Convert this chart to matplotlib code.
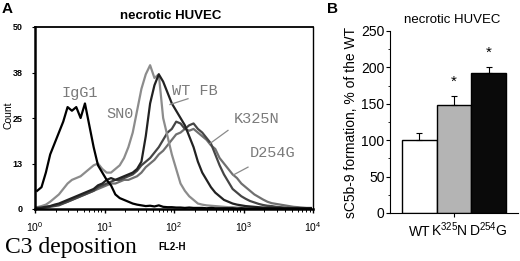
import matplotlib.pyplot as plt
import numpy as np

plt.rcParams['mathtext.fontset'] = 'custom'
plt.rcParams['mathtext.rm'] = 'Liberation Sans'
plt.rcParams['mathtext.it'] = 'Liberation Sans:italic'
plt.rcParams['mathtext.bf'] = 'Liberation Sans:bold'

# flow cytometry histograms, 16 channels per decade (10^0 .. 10^4)
igg1 = [5, 6, 10, 15, 18, 21, 24, 28, 27, 28, 25, 29, 23, 17, 12, 10, 8, 6.5, 4, 3,
        2.5, 2, 1.5, 1.2, 1.0, 0.8, 0.9, 0.7, 1.0, 0.6, 0.5, 0.5, 0.4, 0.4, 0.3, 0.4,
        0.3, 0.3, 0.3, 0.2, 0.3, 0.2, 0.2, 0.2, 0.2, 0.2, 0.1, 0.2, 0.1, 0.1, 0.1, 0.1,
        0.1, 0.1, 0.1, 0.1, 0.1, 0.1, 0.1, 0.1, 0.1, 0.1, 0.1, 0.1]
sn0 = [0.5, 0.8, 1.2, 2, 3, 4, 5.5, 7, 8, 8.5, 9, 10, 11, 12, 12.5, 11, 10, 10, 11, 12,
       14, 17, 21, 27, 33, 37, 39.5, 36, 37, 25, 20, 15, 11, 7, 5, 3.5, 2.5, 1.5, 1.2,
       1, 0.9, 0.8, 0.7, 0.6, 0.5, 0.5, 0.4, 0.4, 0.3, 0.3, 0.3, 0.2, 0.2, 0.2, 0.2,
       0.2, 0.2, 0.1, 0.1, 0.1, 0.1, 0.1, 0.1, 0.1]
wt_fb = [0.3, 0.4, 0.6, 0.8, 1.2, 1.5, 2, 2.5, 3, 3.5, 4, 4.5, 5, 5.5, 6.5, 7, 8, 8.5,
         8, 8.5, 9, 9.5, 10, 11, 13, 20, 29, 34, 37, 35, 32, 29, 27, 25, 23, 20, 17, 13,
         10, 8, 6, 4.5, 3.5, 2.5, 2, 1.5, 1.2, 1, 0.8, 0.7, 0.6, 0.5, 0.4, 0.4, 0.3, 0.3,
         0.3, 0.2, 0.2, 0.2, 0.2, 0.2, 0.2, 0.2]
k325n = [0.2, 0.3, 0.4, 0.6, 0.8, 1, 1.5, 2, 2.5, 3, 3.5, 4, 4.5, 5, 6, 6.5, 7, 7.5, 8,
         8, 8.5, 9, 9.5, 10.5, 12, 13, 14, 15.5, 17, 19, 21, 22, 24, 23.5, 22, 23, 23.5,
         22, 21, 19.5, 18, 15, 12, 9.5, 7.5, 5.5, 4.5, 3.5, 2.8, 2.2, 1.8, 1.4, 1.1, 0.9,
         0.8, 0.6, 0.5, 0.4, 0.3, 0.3, 0.3, 0.2, 0.2, 0.2]
d254g = [0.3, 0.4, 0.6, 0.8, 1, 1.3, 1.6, 2, 2.5, 3, 3.5, 4, 4.5, 5, 5.5, 6, 6.5, 7, 7,
         7.5, 8, 8, 8.5, 9, 10, 11.5, 12.5, 13.5, 15, 16, 17.5, 19, 20.5, 21, 22, 21.5,
         22, 21, 20, 19, 17.5, 16.5, 14, 12.5, 11, 9.5, 8.5, 7, 6, 5, 4, 3.3, 2.6, 2, 1.6,
         1.4, 1.2, 1, 0.8, 0.6, 0.5, 0.4, 0.3, 0.3]

# panel B
groups = ['WT', 'K$^{325}$N', 'D$^{254}$G']
sc5b9 = [100, 148, 192]
sc5b9_err = [10, 13, 8]
significant = [False, True, True]

channels = 10 ** ((np.arange(64) + 0.5) / 16)

fig = plt.figure(figsize=(5.2, 2.61), dpi=100)

# ---------- A ----------
ax = fig.add_axes([35/520, 1-209/261, 278/520, 182/261])
hist = [(d254g, '#707070'), (k325n, '#454545'), (sn0, '#8c8c8c'),
        (wt_fb, '#222222'), (igg1, '#000000')]
for vals, col in hist:
    ax.plot(channels, vals, color=col, lw=1.6)

ax.set_xscale('log')
ax.set_xlim(1, 1e4)
ax.set_ylim(0, 50)
ax.set_xticks([1, 10, 100, 1000, 10000])
ax.set_xticklabels(['$10^{0}$', '$10^{1}$', '$10^{2}$', '$10^{3}$', '$10^{4}$'],
                   fontsize=7.5)
ax.set_yticks([0, 12.5, 25, 37.5, 50])
ax.set_yticklabels(['0', '13', '25', '38', '50'], fontsize=6.5,
                   family='Liberation Sans', weight='bold')
ax.tick_params(axis='x', which='major', length=3, width=1, pad=5)
ax.tick_params(axis='x', which='minor', length=2, width=0.7)
ax.tick_params(axis='y', length=2, width=0.8, pad=7)
ax.spines['left'].set_linewidth(1.8)
ax.spines['bottom'].set_linewidth(1.8)
ax.spines['top'].set_linewidth(1.3)
ax.spines['right'].set_linewidth(1.0)

lab = dict(family='Liberation Mono', fontsize=11, color='#7a7a7a',
           ha='center', va='center')
ax.text(4.44, 32, 'IgG1', **lab)
ax.text(16.7, 26.2, 'SN0', **lab)
ax.text(200, 32.5, 'WT FB', **lab)
ax.text(1560, 24.6, 'K325N', **lab)
ax.text(2660, 15.3, 'D254G', **lab)
lc = dict(color='#8a8a8a', lw=0.9)
ax.plot([159, 87.5], [30.3, 28.7], **lc)
ax.plot([598, 330], [21.6, 18.0], **lc)
ax.plot([1161, 706], [11.5, 9.3], **lc)

fig.text(9/520, 1-115/261, 'Count', rotation=90, ha='center', va='center',
         family='Liberation Sans', fontsize=7.5)
fig.text(171/520, 1-16/261, 'necrotic HUVEC', ha='center', va='center',
         family='Liberation Sans', weight='bold', fontsize=9.5)
fig.text(172/520, 1-247/261, 'FL2-H', ha='center', va='center',
         family='Liberation Sans', weight='bold', fontsize=7)
fig.text(5/520, 1-248/261, 'C3 deposition', ha='left', va='center',
         family='Liberation Serif', fontsize=17)
fig.text(2/520, 1-9/261, 'A', ha='left', va='center',
         family='Liberation Sans', weight='bold', fontsize=11)

# ---------- B ----------
bx = fig.add_axes([390/520, 1-213/261, 128/520, 182/261])
xpos = np.arange(len(groups))
bx.bar(xpos, sc5b9, width=1.0, color=['white', '#b4b4b4', '#0a0a0a'],
       edgecolor='black', lw=1)
bx.errorbar(xpos, sc5b9, yerr=[[0]*3, sc5b9_err], fmt='none', ecolor='black',
            elinewidth=0.8, capsize=2, capthick=0.8)
for x, v, e, s in zip(xpos, sc5b9, sc5b9_err, significant):
    if s:
        bx.text(x, v + e + 10, '*', ha='center', va='bottom', fontsize=11,
                family='Liberation Sans')
bx.set_xlim(-0.855, 2.855)
bx.set_ylim(0, 250)
bx.set_yticks([0, 50, 100, 150, 200, 250])
bx.set_yticks([25, 75, 125, 175, 225], minor=True)
bx.set_xticks([])
bx.set_xticks([1], minor=True)
# group names on a common baseline, packed a bit tighter than the bars
for x, g in zip([0.0, 0.88, 2.0], groups):
    bx.text(x, -0.126, g, transform=bx.get_xaxis_transform(), ha='center',
            va='baseline', family='Liberation Sans', fontsize=10)
bx.tick_params(axis='x', which='minor', length=3, width=0.8)
bx.tick_params(axis='y', which='major', length=3, width=0.8, pad=1, labelsize=10)
bx.tick_params(axis='y', which='minor', length=1.5, width=0.6)
for t in bx.get_yticklabels():
    t.set_family('Liberation Sans')
bx.spines['top'].set_visible(False)
bx.spines['right'].set_visible(False)
bx.spines['left'].set_linewidth(0.8)
bx.spines['bottom'].set_linewidth(0.8)
bx.set_ylabel('sC5b-9 formation, % of the WT', family='Liberation Sans',
              fontsize=10, labelpad=2)
fig.text(452/520, 1-20/261, 'necrotic HUVEC', ha='center', va='center',
         family='Liberation Sans', fontsize=9.5)
fig.text(327/520, 1-9/261, 'B', ha='left', va='center',
         family='Liberation Sans', weight='bold', fontsize=11)

fig.savefig('out.png', dpi=100)
